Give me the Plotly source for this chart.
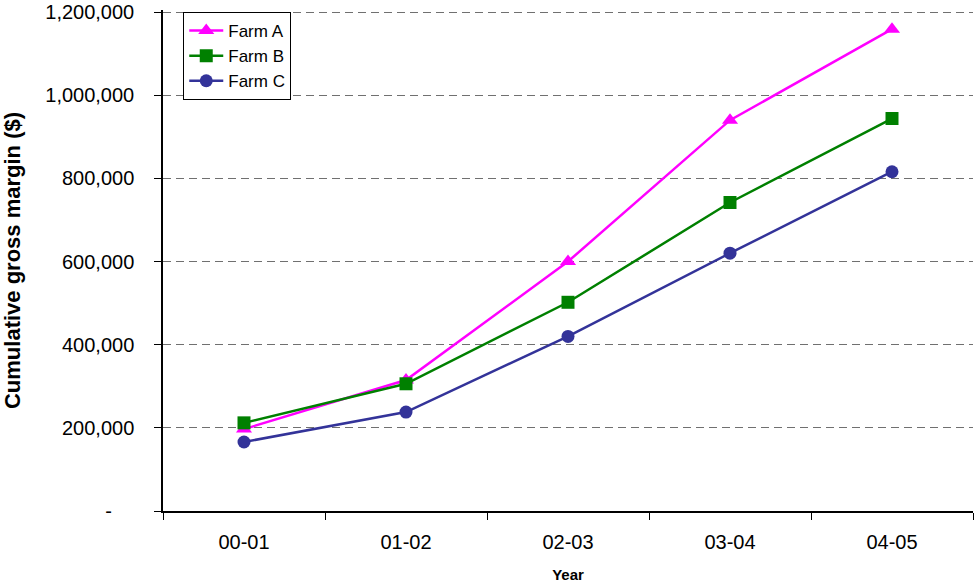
import plotly.graph_objects as go

years = ["00-01", "01-02", "02-03", "03-04", "04-05"]
farm_a = [197000, 315000, 600000, 940000, 1159000]
farm_b = [212000, 306000, 502000, 742000, 944000]
farm_c = [166000, 238000, 420000, 620000, 816000]

y_tickvals = [0, 200000, 400000, 600000, 800000, 1000000, 1200000]
y_ticktext = ["-&nbsp;&nbsp;&nbsp;&nbsp;", "200,000", "400,000", "600,000", "800,000", "1,000,000", "1,200,000"]

fig = go.Figure()
fig.add_trace(go.Scatter(x=years, y=farm_a, name="Farm A", mode="lines+markers",
                         line=dict(color="#FF00FF", width=2.5),
                         marker=dict(symbol="triangle-up", size=14, color="#FF00FF")))
fig.add_trace(go.Scatter(x=years, y=farm_b, name="Farm B", mode="lines+markers",
                         line=dict(color="#008000", width=2.5),
                         marker=dict(symbol="square", size=13, color="#008000")))
fig.add_trace(go.Scatter(x=years, y=farm_c, name="Farm C", mode="lines+markers",
                         line=dict(color="#333399", width=2.5),
                         marker=dict(symbol="circle", size=13, color="#333399")))

fig.update_layout(
    width=974, height=584,
    margin=dict(l=163, r=1, t=10, b=73, autoexpand=False),
    paper_bgcolor="white", plot_bgcolor="white",
    font=dict(family="Liberation Sans, Arial, sans-serif", color="black", size=20),
    showlegend=True,
    legend=dict(x=0.025, y=0.996, xanchor="left", yanchor="top",
                bordercolor="black", borderwidth=1, bgcolor="white",
                font=dict(size=17), tracegroupgap=0, itemwidth=34),
)
fig.update_xaxes(
    type="category", range=[-0.5, 4.5], tickson="boundaries",
    ticks="outside", ticklen=7, tickcolor="black", ticklabelstandoff=12,
    showline=True, linecolor="black", linewidth=1.5, showgrid=False,
    automargin=False, tickfont=dict(size=20),
    title=dict(text="<b>Year</b>", font=dict(size=15), standoff=18),
)
fig.update_yaxes(
    range=[0, 1205000], tickvals=y_tickvals, ticktext=y_ticktext,
    ticks="outside", ticklen=7, tickcolor="black", ticklabelstandoff=16,
    ticklabeloverflow="allow",
    showline=True, linecolor="black", linewidth=1.5,
    showgrid=True, gridcolor="#707070", griddash="8px,5px", gridwidth=1,
    zeroline=False, automargin=False, tickfont=dict(size=20),
    title=dict(text="<b>Cumulative gross margin ($)</b>", font=dict(size=22), standoff=24),
)

fig.write_html("out.html", config={"displayModeBar": False},
               post_script="document.body.style.margin='0';")
